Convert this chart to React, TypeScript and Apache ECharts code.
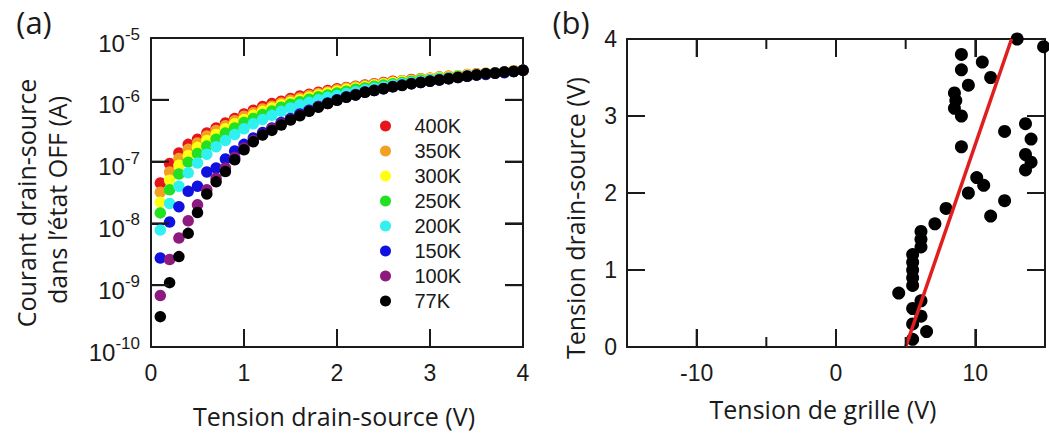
import React, { useEffect, useRef } from "react";
import * as echarts from "echarts";

// ---------- Panel (a): drain-source voltage (V) and OFF-state current (A) ----------
const vdsA = [
  0.1, 0.2, 0.3, 0.4, 0.5, 0.6, 0.7, 0.8, 0.9, 1.0,
  1.1, 1.2, 1.3, 1.4, 1.5, 1.6, 1.7, 1.8, 1.9, 2.0,
  2.1, 2.2, 2.3, 2.4, 2.5, 2.6, 2.7, 2.8, 2.9, 3.0,
  3.1, 3.2, 3.3, 3.4, 3.5, 3.6, 3.7, 3.8, 3.9, 4.0,
];

const i400K = [
  4.5e-8, 9.3e-8, 1.38e-7, 1.9e-7, 2.3e-7, 2.9e-7, 3.5e-7, 4.2e-7, 5.0e-7, 5.9e-7,
  6.8e-7, 7.8e-7, 8.7e-7, 9.5e-7, 1.05e-6, 1.15e-6, 1.23e-6, 1.32e-6, 1.41e-6, 1.51e-6,
  1.58e-6, 1.66e-6, 1.74e-6, 1.82e-6, 1.9e-6, 2.0e-6, 2.04e-6, 2.14e-6, 2.19e-6, 2.24e-6,
  2.34e-6, 2.4e-6, 2.45e-6, 2.57e-6, 2.63e-6, 2.69e-6, 2.75e-6, 2.82e-6, 2.95e-6, 3.0e-6,
];
const i350K = [
  3.2e-8, 6.8e-8, 1.12e-7, 1.58e-7, 2.0e-7, 2.6e-7, 3.2e-7, 3.8e-7, 4.6e-7, 5.4e-7,
  6.2e-7, 7.1e-7, 7.9e-7, 8.9e-7, 9.8e-7, 1.07e-6, 1.17e-6, 1.26e-6, 1.35e-6, 1.45e-6,
  1.55e-6, 1.62e-6, 1.7e-6, 1.78e-6, 1.86e-6, 1.95e-6, 2.04e-6, 2.09e-6, 2.19e-6, 2.24e-6,
  2.34e-6, 2.4e-6, 2.45e-6, 2.57e-6, 2.63e-6, 2.69e-6, 2.75e-6, 2.82e-6, 2.95e-6, 3.0e-6,
];
const i300K = [
  2.2e-8, 5.0e-8, 8.7e-8, 1.26e-7, 1.7e-7, 2.2e-7, 2.75e-7, 3.4e-7, 4.1e-7, 4.8e-7,
  5.6e-7, 6.5e-7, 7.4e-7, 8.3e-7, 9.1e-7, 1.0e-6, 1.1e-6, 1.2e-6, 1.29e-6, 1.38e-6,
  1.48e-6, 1.55e-6, 1.62e-6, 1.74e-6, 1.82e-6, 1.9e-6, 2.0e-6, 2.04e-6, 2.14e-6, 2.19e-6,
  2.29e-6, 2.34e-6, 2.45e-6, 2.51e-6, 2.57e-6, 2.69e-6, 2.75e-6, 2.82e-6, 2.95e-6, 3.0e-6,
];
const i250K = [
  1.48e-8, 3.5e-8, 6.3e-8, 9.8e-8, 1.35e-7, 1.78e-7, 2.3e-7, 2.9e-7, 3.5e-7, 4.3e-7,
  5.0e-7, 5.8e-7, 6.6e-7, 7.6e-7, 8.5e-7, 9.3e-7, 1.02e-6, 1.12e-6, 1.2e-6, 1.29e-6,
  1.38e-6, 1.48e-6, 1.55e-6, 1.66e-6, 1.74e-6, 1.82e-6, 1.9e-6, 2.0e-6, 2.09e-6, 2.14e-6,
  2.24e-6, 2.29e-6, 2.4e-6, 2.45e-6, 2.57e-6, 2.63e-6, 2.75e-6, 2.82e-6, 2.88e-6, 3.0e-6,
];
const i200K = [
  7.8e-9, 2.1e-8, 4.0e-8, 6.6e-8, 9.5e-8, 1.32e-7, 1.74e-7, 2.2e-7, 2.75e-7, 3.4e-7,
  4.1e-7, 4.8e-7, 5.6e-7, 6.5e-7, 7.4e-7, 8.3e-7, 9.1e-7, 1.0e-6, 1.1e-6, 1.17e-6,
  1.26e-6, 1.35e-6, 1.45e-6, 1.55e-6, 1.62e-6, 1.74e-6, 1.82e-6, 1.9e-6, 2.0e-6, 2.09e-6,
  2.19e-6, 2.24e-6, 2.34e-6, 2.45e-6, 2.51e-6, 2.63e-6, 2.69e-6, 2.82e-6, 2.88e-6, 3.0e-6,
];
const i150K = [
  2.75e-9, 1.05e-8, 1.86e-8, 3.3e-8, 4.0e-8, 6.8e-8, 7.9e-8, 1.1e-7, 1.48e-7, 1.9e-7,
  2.4e-7, 2.95e-7, 3.5e-7, 4.3e-7, 5.0e-7, 5.9e-7, 6.8e-7, 7.8e-7, 8.9e-7, 1.0e-6,
  1.1e-6, 1.2e-6, 1.32e-6, 1.41e-6, 1.51e-6, 1.62e-6, 1.74e-6, 1.82e-6, 1.9e-6, 2.0e-6,
  2.09e-6, 2.19e-6, 2.29e-6, 2.4e-6, 2.51e-6, 2.57e-6, 2.69e-6, 2.75e-6, 2.88e-6, 3.0e-6,
];
const i100K = [
  6.8e-10, 2.6e-9, 5.8e-9, 1.1e-8, 2.0e-8, 3.5e-8, 5.4e-8, 7.9e-8, 1.17e-7, 1.66e-7,
  2.2e-7, 2.75e-7, 3.4e-7, 4.1e-7, 4.8e-7, 5.6e-7, 6.6e-7, 7.8e-7, 8.7e-7, 9.8e-7,
  1.12e-6, 1.22e-6, 1.34e-6, 1.43e-6, 1.53e-6, 1.64e-6, 1.72e-6, 1.84e-6, 1.92e-6, 2.02e-6,
  2.11e-6, 2.21e-6, 2.31e-6, 2.42e-6, 2.53e-6, 2.64e-6, 2.71e-6, 2.83e-6, 2.9e-6, 3.0e-6,
];
const i77K = [
  3.1e-10, 1.1e-9, 2.9e-9, 6.9e-9, 1.5e-8, 3.0e-8, 4.7e-8, 6.9e-8, 1.07e-7, 1.55e-7,
  2.1e-7, 2.7e-7, 3.2e-7, 3.9e-7, 4.7e-7, 5.5e-7, 6.5e-7, 7.6e-7, 8.7e-7, 9.8e-7,
  1.1e-6, 1.2e-6, 1.32e-6, 1.41e-6, 1.51e-6, 1.62e-6, 1.7e-6, 1.82e-6, 1.9e-6, 2.0e-6,
  2.09e-6, 2.19e-6, 2.29e-6, 2.4e-6, 2.51e-6, 2.63e-6, 2.69e-6, 2.82e-6, 2.88e-6, 3.0e-6,
];

const tempNames = ["400K", "350K", "300K", "250K", "200K", "150K", "100K", "77K"];
const tempColors = ["#e8141c", "#f2a023", "#ffff10", "#22e022", "#30f0f0", "#1010e0", "#8e1a80", "#000000"];
const tempSeries = [i400K, i350K, i300K, i250K, i200K, i150K, i100K, i77K];

// ---------- Panel (b): gate voltage (V) vs drain-source voltage (V) ----------
const vdsB = [
  0.1, 0.2, 0.3, 0.4, 0.5, 0.6, 0.7, 0.8, 0.9, 1.0,
  1.1, 1.2, 1.3, 1.4, 1.5, 1.6, 1.7, 1.8, 1.9, 2.0,
  2.1, 2.2, 2.3, 2.4, 2.5, 2.6, 2.7, 2.8, 2.9, 3.0,
  3.1, 3.2, 3.3, 3.4, 3.5, 3.6, 3.7, 3.8, 3.9, 4.0,
];
const vgsB = [
  5.5, 6.5, 5.5, 6.1, 5.5, 6.1, 4.5, 5.5, 5.5, 5.5,
  5.5, 5.5, 6.1, 6.1, 6.1, 7.1, 11.1, 7.9, 12.1, 9.5,
  10.6, 10.1, 13.6, 14.0, 13.6, 9.0, 14.0, 12.1, 13.6, 9.0,
  8.5, 8.6, 8.5, 9.5, 11.1, 9.0, 10.5, 9.0, 14.9, 13.0,
];
const fitVgs = [5.0, 12.6];
const fitVds = [0, 4];

// ---------- axis ranges and tick values ----------
const xRangeA = [0, 4];
const yRangeA = [1e-10, 1e-5];
const xRangeB = [-15, 15];
const yRangeB = [0, 4];
const xTicksA = [1, 2, 3];
const yTicksA = [1e-9, 1e-8, 1e-7, 1e-6];
const xMajorB = [-10, 0, 10];
const xMinorB = [-5, 5];
const yTicksB = [1, 2, 3];

const AX = "#1a1a1a";
const NUM_FONT = "'Liberation Sans', Arial, sans-serif";
const TXT_FONT = "'Open Sans', sans-serif";

export default function App() {
  const ref = useRef<HTMLDivElement>(null);

  useEffect(() => {
    if (!ref.current) return;
    const chart = echarts.init(ref.current, null, { renderer: "svg" });

    const numLabel = { fontSize: 23, fontFamily: NUM_FONT, color: AX };
    const hidden = { show: false };
    const noSplit = { show: false };
    const lineOn = { show: true, onZero: false, lineStyle: { color: AX, width: 2 } };
    const inTick = (customValues?: number[]) => {
      const t: any = { show: true, inside: true, length: 18, lineStyle: { color: AX, width: 2 } };
      if (customValues) t.customValues = customValues;
      return t;
    };

    const gridA = { left: 151, top: 38, width: 372, height: 309 };
    const gridB = { left: 627, top: 39, width: 418, height: 308 };

    const xA = { gridIndex: 0, type: "value", min: xRangeA[0], max: xRangeA[1], interval: 1, splitLine: noSplit };
    const xB = { gridIndex: 1, type: "value", min: xRangeB[0], max: xRangeB[1], interval: 5, splitLine: noSplit };
    const yA = { gridIndex: 0, type: "log", logBase: 10, min: yRangeA[0], max: yRangeA[1], splitLine: noSplit, minorTick: hidden };
    const yB = { gridIndex: 1, type: "value", min: yRangeB[0], max: yRangeB[1], interval: 1, splitLine: noSplit };

    const xAxis: any[] = [
      { ...xA, position: "bottom", axisLine: lineOn, axisTick: inTick(xTicksA), axisLabel: { ...numLabel, margin: 14 } },
      { ...xA, position: "top", axisLine: lineOn, axisTick: inTick(xTicksA), axisLabel: hidden },
      { ...xB, position: "bottom", axisLine: lineOn, axisTick: inTick(xMajorB), axisLabel: { ...numLabel, margin: 14, customValues: xMajorB } },
      { ...xB, position: "top", axisLine: lineOn, axisTick: inTick(xMajorB), axisLabel: hidden },
    ];

    const yAxis: any[] = [
      {
        ...yA, position: "left", axisLine: lineOn, axisTick: inTick(),
        axisLabel: {
          margin: 11,
          formatter: (v: number) => `{b|10}{s|${Math.round(Math.log10(v))}}`,
          rich: {
            b: { fontSize: 24, fontFamily: NUM_FONT, color: AX, lineHeight: 24, padding: [10, 0, 0, 0] },
            s: { fontSize: 17, fontFamily: NUM_FONT, color: AX, lineHeight: 16, verticalAlign: "top" },
          },
        },
      },
      { ...yA, position: "right", axisLine: lineOn, axisTick: inTick(), axisLabel: hidden },
      { ...yB, position: "left", axisLine: lineOn, axisTick: inTick(yTicksB), axisLabel: { ...numLabel, margin: 10 } },
      { ...yB, position: "right", axisLine: lineOn, axisTick: inTick(yTicksB), axisLabel: hidden },
    ];

    const series: any[] = tempSeries.map((arr, k) => ({
      name: tempNames[k],
      type: "scatter",
      xAxisIndex: 0,
      yAxisIndex: 0,
      symbol: "circle",
      symbolSize: 11.5,
      itemStyle: { color: tempColors[k], opacity: 1 },
      z: 2 + k,
      data: vdsA.map((x, i) => [x, arr[i]]),
    }));

    series.push({
      name: "Vds(Vg)",
      type: "scatter",
      xAxisIndex: 2,
      yAxisIndex: 2,
      symbol: "circle",
      symbolSize: 13,
      itemStyle: { color: "#000000", opacity: 1 },
      z: 3,
      data: vgsB.map((x, i) => [x, vdsB[i]]),
    });
    series.push({
      name: "fit",
      type: "line",
      xAxisIndex: 2,
      yAxisIndex: 2,
      symbol: "none",
      lineStyle: { color: "#e01e1e", width: 3.5 },
      z: 5,
      data: fitVgs.map((x, i) => [x, fitVds[i]]),
    });

    const txt = (text: string, x: number, y: number, size: number, rot = 0) => ({
      type: "text",
      x,
      y,
      rotation: rot,
      style: {
        text,
        fontSize: size,
        fontFamily: TXT_FONT,
        fill: AX,
        align: "center",
        verticalAlign: "middle",
      },
    });

    const texts: any[] = [
      txt("(a)", 34, 22, 31),
      txt("(b)", 571, 22, 31),
      txt("Courant drain-source", 26, 203, 25, Math.PI / 2),
      txt("dans l’état OFF (A)", 57, 200, 25, Math.PI / 2),
      txt("Tension drain-source (V)", 334, 416, 25),
      txt("Tension drain-source (V)", 575, 218, 25, Math.PI / 2),
      txt("Tension de grille (V)", 823, 409, 25),
    ];

    chart.setOption({
      animation: false,
      backgroundColor: "#ffffff",
      grid: [gridA, gridB],
      xAxis,
      yAxis,
      legend: {
        data: tempNames,
        orient: "vertical",
        left: 375,
        top: 111,
        itemWidth: 48,
        itemHeight: 11,
        itemGap: 5,
        icon: "circle",
        selectedMode: false,
        textStyle: { fontSize: 20, fontFamily: NUM_FONT, color: AX, lineHeight: 19 },
      },
      graphic: texts,
      series,
    });

    // Inward frame ticks, positioned through the axes' own scales (also covers the short minor ticks).
    const ticks: any[] = [];
    const addTicks = (xi: number, yi: number, pts: number[][], dx: number, dy: number) => {
      pts.forEach((p) => {
        const c = chart.convertToPixel({ xAxisIndex: xi, yAxisIndex: yi }, p) as number[];
        if (!c || !isFinite(c[0]) || !isFinite(c[1])) return;
        ticks.push({
          type: "line",
          z: 100,
          silent: true,
          shape: { x1: c[0], y1: c[1], x2: c[0] + dx, y2: c[1] + dy },
          style: { stroke: AX, lineWidth: 2 },
        });
      });
    };
    addTicks(0, 0, xTicksA.map((v) => [v, yRangeA[0]]), 0, -18);
    addTicks(0, 0, xTicksA.map((v) => [v, yRangeA[1]]), 0, 18);
    addTicks(0, 0, yTicksA.map((v) => [xRangeA[0], v]), 18, 0);
    addTicks(0, 0, yTicksA.map((v) => [xRangeA[1], v]), -18, 0);
    addTicks(2, 2, xMajorB.map((v) => [v, yRangeB[0]]), 0, -18);
    addTicks(2, 2, xMajorB.map((v) => [v, yRangeB[1]]), 0, 18);
    addTicks(2, 2, xMinorB.map((v) => [v, yRangeB[0]]), 0, -10);
    addTicks(2, 2, xMinorB.map((v) => [v, yRangeB[1]]), 0, 10);
    addTicks(2, 2, yTicksB.map((v) => [xRangeB[0], v]), 18, 0);
    addTicks(2, 2, yTicksB.map((v) => [xRangeB[1], v]), -18, 0);

    chart.setOption({ graphic: [...texts, ...ticks] });

    return () => chart.dispose();
  }, []);

  return (
    <div
      ref={ref}
      style={{ position: "absolute", left: 0, top: 0, width: 1049, height: 435, background: "#fff" }}
    />
  );
}
